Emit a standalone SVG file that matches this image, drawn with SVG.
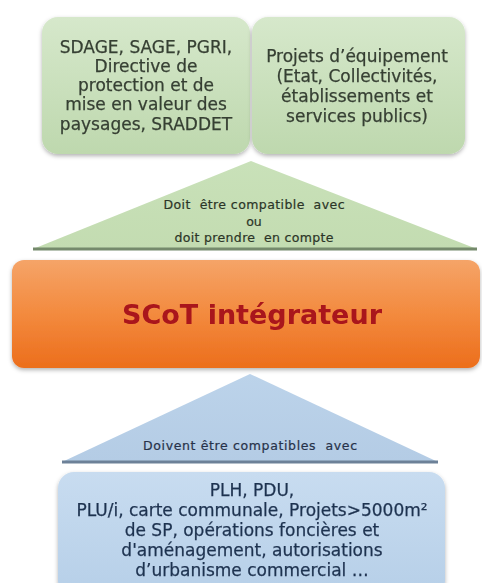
<svg xmlns="http://www.w3.org/2000/svg" width="482" height="583" viewBox="0 0 482 583">
<style>
.t{font-family:"DejaVu Sans","Verdana",sans-serif;text-anchor:middle}
.box{font-size:17px;fill:#363f33;stroke:#363f33;stroke-width:0.25}
.tri{font-size:12.5px;fill:#2b3527;stroke:#2b3527;stroke-width:0.2}
.trib{font-size:12.5px;fill:#27324a;stroke:#27324a;stroke-width:0.2}
.blu{font-size:17px;fill:#1f3350;stroke:#1f3350;stroke-width:0.25}
.scot{font-family:"DejaVu Sans",sans-serif;font-weight:bold;font-size:27px;fill:#a9121b;text-anchor:middle}
</style>
<defs>
<linearGradient id="gG" x1="0" y1="0" x2="0" y2="1"><stop offset="0" stop-color="#d6e8cb"/><stop offset="1" stop-color="#bed8ae"/></linearGradient>
<linearGradient id="gT" x1="0" y1="0" x2="0" y2="1"><stop offset="0" stop-color="#c9e1b9"/><stop offset="1" stop-color="#c3dcb1"/></linearGradient>
<linearGradient id="gO" x1="0" y1="0" x2="0" y2="1"><stop offset="0" stop-color="#f5a468"/><stop offset="0.5" stop-color="#f38a3e"/><stop offset="1" stop-color="#ec6e1c"/></linearGradient>
<linearGradient id="gB" x1="0" y1="0" x2="0" y2="1"><stop offset="0" stop-color="#c8dcf0"/><stop offset="1" stop-color="#b6cfe8"/></linearGradient>
<linearGradient id="gBT" x1="0" y1="0" x2="0" y2="1"><stop offset="0" stop-color="#bcd3ea"/><stop offset="1" stop-color="#b4cce5"/></linearGradient>
<filter id="sh" x="-10%" y="-10%" width="120%" height="125%"><feDropShadow dx="0" dy="2" stdDeviation="2" flood-color="#000" flood-opacity="0.3"/></filter>
</defs>
<rect width="482" height="583" fill="#ffffff"/>
<g id="connectors">
<g id="tri-green">
<polygon points="251,161 33,249 477,249" fill="url(#gT)"/>
<line x1="33" y1="249" x2="477" y2="249" stroke="#758a6c" stroke-width="3"/>
<text class="t tri" xml:space="preserve" x="254" y="209" textLength="181" lengthAdjust="spacing">Doit  être compatible  avec</text>
<text class="t tri" x="254" y="226">ou</text>
<text class="t tri" xml:space="preserve" x="254" y="242" textLength="159" lengthAdjust="spacing">doit prendre  en compte</text>
</g>
<g id="tri-blue">
<polygon points="250,374 62,462 438,462" fill="url(#gBT)"/>
<line x1="62" y1="462" x2="438" y2="462" stroke="#6d8198" stroke-width="3"/>
<text class="t trib" xml:space="preserve" x="250" y="450" textLength="214" lengthAdjust="spacing">Doivent être compatibles  avec</text>
</g>
</g>
<g id="node-sdage" filter="url(#sh)">
<rect x="42" y="17" width="208" height="137" rx="16" fill="url(#gG)"/>
<text class="t box" x="146" y="53">SDAGE, SAGE, PGRI,</text>
<text class="t box" x="146" y="72">Directive de</text>
<text class="t box" x="146" y="91">protection et de</text>
<text class="t box" x="146" y="110">mise en valeur des</text>
<text class="t box" x="146" y="130">paysages, SRADDET</text>
</g>
<g id="node-projets" filter="url(#sh)">
<rect x="252" y="17" width="213" height="137" rx="16" fill="url(#gG)"/>
<text class="t box" x="357" y="62">Projets d’équipement</text>
<text class="t box" x="357" y="82">(Etat, Collectivités,</text>
<text class="t box" x="357" y="102">établissements et</text>
<text class="t box" x="357" y="122">services publics)</text>
</g>
<g id="node-scot" filter="url(#sh)">
<rect x="12" y="260" width="468" height="108" rx="12" fill="url(#gO)"/>
<text class="scot" x="252" y="324">SCoT intégrateur</text>
</g>
<g id="node-plh" filter="url(#sh)">
<rect x="58" y="472" width="387" height="125" rx="16" fill="url(#gB)"/>
<text class="t blu" x="252" y="496">PLH, PDU,</text>
<text class="t blu" x="252" y="516">PLU/i, carte communale, Projets&gt;5000m²</text>
<text class="t blu" x="252" y="536">de SP, opérations foncières et</text>
<text class="t blu" x="252" y="556">d'aménagement, autorisations</text>
<text class="t blu" x="252" y="576">d’urbanisme commercial …</text>
</g>
</svg>
